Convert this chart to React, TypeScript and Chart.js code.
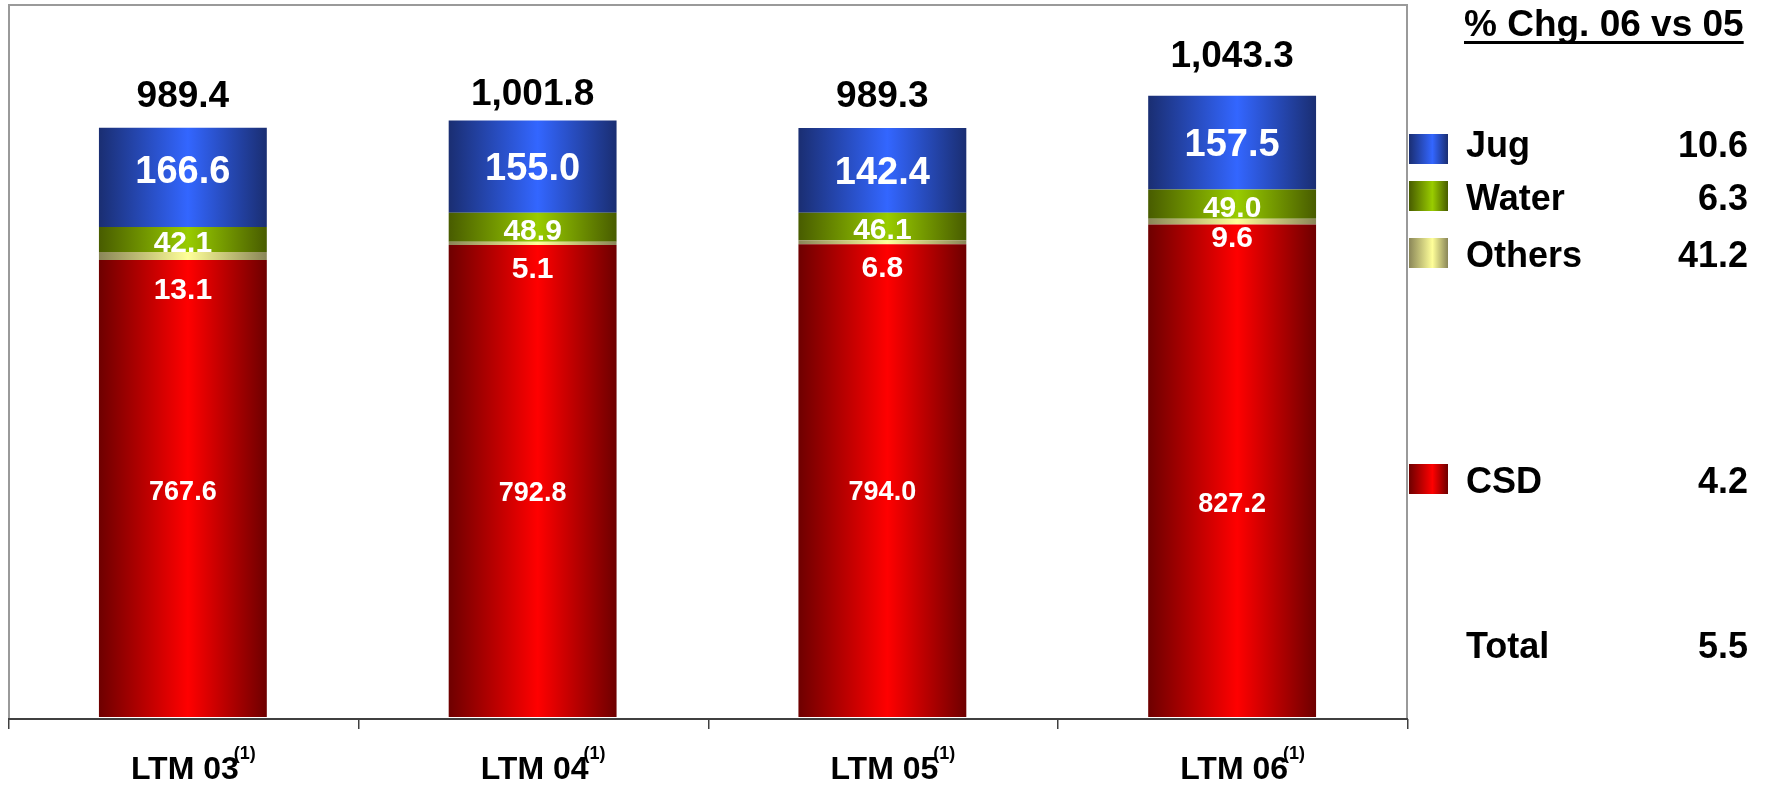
import React, { useEffect, useRef } from 'react';
import { Chart, registerables } from 'chart.js';

Chart.register(...registerables);

// ---- data ----
const categories = ['LTM 03', 'LTM 04', 'LTM 05', 'LTM 06'];
const footnote = '(1)';
const csd = [767.6, 792.8, 794.0, 827.2];
const others = [13.1, 5.1, 6.8, 9.6];
const water = [42.1, 48.9, 46.1, 49.0];
const jug = [166.6, 155.0, 142.4, 157.5];
const totals = [989.4, 1001.8, 989.3, 1043.3];
const legendTitle = '% Chg. 06 vs 05';
const legendNames = ['Jug', 'Water', 'Others', 'CSD', 'Total'];
const legendChanges = ['10.6', '6.3', '41.2', '4.2', '5.5'];
const yMax = 1194;

// ---- styles ----
const FONT = "'Liberation Sans', Arial, Helvetica, sans-serif";
const RED = { edge: '#6e0000', mid: '#ff0000' };
const YEL = { edge: '#8a8658', mid: '#ffff99' };
const GRN = { edge: '#485c00', mid: '#99cc00' };
const BLU = { edge: '#1a2e72', mid: '#3366ff' };
const BAR_PCT = 0.48;
const othersLabelGap = [28, 22, 22, 12];
const totalGap = [21, 15, 21, 29];
const csdLabelShift = [2, 10, 10, 32];
const jugLabelShift = [-8, 0, 0, 0];

function grad(ctx: CanvasRenderingContext2D, x0: number, x1: number, c: { edge: string; mid: string }, midPos = 0.53) {
  const g = ctx.createLinearGradient(x0, 0, x1, 0);
  g.addColorStop(0, c.edge);
  g.addColorStop(midPos, c.mid);
  g.addColorStop(1, c.edge);
  return g;
}

function barFill(c: { edge: string; mid: string }) {
  return (context: any) => {
    const chart = context.chart;
    const xs = chart.scales?.x;
    if (!xs || !chart.chartArea) return c.mid;
    const i = context.dataIndex ?? 0;
    const cx = xs.getPixelForValue(i);
    const w = (xs.width / categories.length) * BAR_PCT;
    return grad(chart.ctx, cx - w / 2, cx + w / 2, c);
  };
}

function capText(ctx: CanvasRenderingContext2D, text: string, x: number, cy: number, size: number, color: string) {
  ctx.font = `bold ${size}px ${FONT}`;
  ctx.fillStyle = color;
  ctx.textAlign = 'center';
  ctx.textBaseline = 'alphabetic';
  ctx.fillText(text, x, cy + size * 0.716 / 2);
}

const decor = {
  id: 'decor',
  afterDatasetsDraw(chart: any) {
    const ctx: CanvasRenderingContext2D = chart.ctx;
    const area = chart.chartArea;
    const xs = chart.scales.x;
    ctx.save();

    const mCsd = chart.getDatasetMeta(0).data;
    const mWat = chart.getDatasetMeta(2).data;
    const mJug = chart.getDatasetMeta(3).data;

    categories.forEach((_, i) => {
      const b0 = mCsd[i], b2 = mWat[i], b3 = mJug[i];
      const x = b0.x;
      capText(ctx, csd[i].toFixed(1), x, (b0.y + b0.base) / 2 + csdLabelShift[i], 27, '#ffffff');
      capText(ctx, others[i].toFixed(1), x, b0.y + othersLabelGap[i], 30, '#ffffff');
      capText(ctx, water[i].toFixed(1), x, (b2.y + b2.base) / 2 + 2, 30, '#ffffff');
      capText(ctx, jug[i].toFixed(1), x, (b3.y + b3.base) / 2 + jugLabelShift[i], 38, '#ffffff');
      ctx.font = `bold 37px ${FONT}`;
      ctx.fillStyle = '#000000';
      ctx.textAlign = 'center';
      ctx.textBaseline = 'alphabetic';
      ctx.fillText(totals[i].toLocaleString('en-US', { minimumFractionDigits: 1, maximumFractionDigits: 1 }), x, b3.y - totalGap[i]);
    });

    // frame
    ctx.fillStyle = '#9a9a9a';
    ctx.fillRect(area.left, area.top - 2, area.right - area.left + 1, 2);
    ctx.fillRect(area.left, area.top - 2, 2, area.bottom - area.top + 3);
    ctx.fillRect(area.right - 1, area.top - 2, 2, area.bottom - area.top + 3);
    // axis
    ctx.fillStyle = '#404040';
    ctx.fillRect(area.left, area.bottom + 1, area.right - area.left + 1, 2);
    const cw = (area.right - area.left) / categories.length;
    for (let k = 0; k <= categories.length; k++) {
      const tx = Math.round(area.left + k * cw);
      ctx.fillRect(tx, area.bottom + 2, 1.5, 10);
    }

    // x labels
    categories.forEach((lab, i) => {
      const cx = xs.getPixelForValue(i) + 2;
      ctx.font = `bold 32px ${FONT}`;
      ctx.fillStyle = '#000';
      ctx.textAlign = 'center';
      ctx.textBaseline = 'alphabetic';
      ctx.fillText(lab, cx, 779);
      const w = ctx.measureText(lab).width;
      ctx.font = `bold 18px ${FONT}`;
      ctx.textAlign = 'left';
      ctx.fillText(footnote, cx + w / 2 - 5, 759);
    });

    // legend
    ctx.font = `bold 37px ${FONT}`;
    ctx.fillStyle = '#000';
    ctx.textAlign = 'left';
    ctx.fillText(legendTitle, 1464, 36);
    const tw = ctx.measureText(legendTitle).width;
    ctx.fillRect(1464, 41, tw, 3);

    const swatchColors = [BLU, GRN, YEL, RED, null];
    const swatchTop = [134, 181, 238, 464, 0];
    const baselines = [157, 210, 267, 493, 658];
    legendNames.forEach((name, k) => {
      const sc = swatchColors[k];
      if (sc) {
        ctx.fillStyle = grad(ctx, 1409, 1448, sc, 0.6);
        ctx.fillRect(1409, swatchTop[k], 39, 30);
      }
      ctx.font = `bold 36px ${FONT}`;
      ctx.fillStyle = '#000';
      ctx.textAlign = 'left';
      ctx.fillText(name, 1466, baselines[k]);
      ctx.textAlign = 'right';
      ctx.fillText(legendChanges[k], 1748, baselines[k]);
    });

    ctx.restore();
  },
};

export default function App() {
  const ref = useRef<HTMLCanvasElement | null>(null);
  useEffect(() => {
    document.body.style.margin = '0';
    const canvas = ref.current!;
    const chart = new Chart(canvas, {
      type: 'bar',
      data: {
        labels: categories,
        datasets: [
          { label: 'CSD', data: csd, backgroundColor: barFill(RED) as any },
          { label: 'Others', data: others, backgroundColor: barFill(YEL) as any },
          { label: 'Water', data: water, backgroundColor: barFill(GRN) as any },
          { label: 'Jug', data: jug, backgroundColor: barFill(BLU) as any },
        ],
      },
      options: {
        responsive: false,
        animation: false,
        devicePixelRatio: 1,
        layout: { padding: { left: 8, top: 6, right: 359, bottom: 69 } },
        datasets: { bar: { barPercentage: BAR_PCT, categoryPercentage: 1, borderWidth: 0 } },
        plugins: { legend: { display: false }, tooltip: { enabled: false }, title: { display: false } },
        scales: {
          x: { stacked: true, display: false },
          y: { stacked: true, display: false, min: 0, max: yMax },
        },
      },
      plugins: [decor],
    });
    return () => chart.destroy();
  }, []);
  return (
    <canvas
      ref={ref}
      width={1766}
      height={786}
      style={{ display: 'block', position: 'absolute', left: 0, top: 0, width: 1766, height: 786, background: '#fff' }}
    />
  );
}
